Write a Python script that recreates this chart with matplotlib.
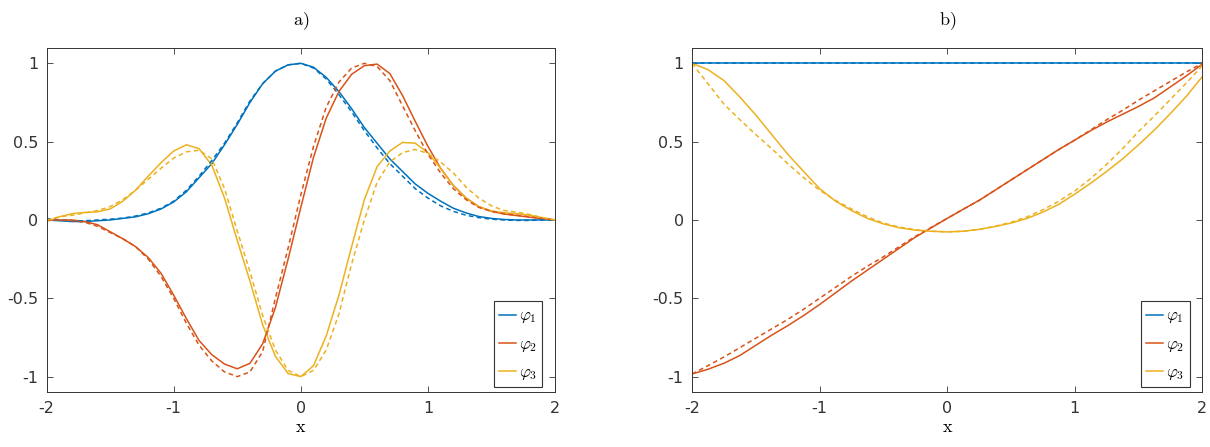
import numpy as np
import matplotlib
matplotlib.use("Agg")
import matplotlib.pyplot as plt

plt.rcParams['mathtext.fontset'] = 'cm'
plt.rcParams['axes.unicode_minus'] = False
plt.rcParams['font.family'] = 'DejaVu Sans'

# matlab default line colours
c_blue = '#0072BD'
c_red = '#D95319'
c_yel = '#EDB120'

# panel a), x step 0.1
xa = [-2.0, -1.9, -1.8, -1.7, -1.6, -1.5, -1.4, -1.3, -1.2, -1.1, -1.0,
      -0.9, -0.8, -0.7, -0.6, -0.5, -0.4, -0.3, -0.2, -0.1, 0.0,
      0.1, 0.2, 0.3, 0.4, 0.5, 0.6, 0.7, 0.8, 0.9, 1.0,
      1.1, 1.2, 1.3, 1.4, 1.5, 1.6, 1.7, 1.8, 1.9, 2.0]
a_phi1 = [0.0, -0.005, -0.01, -0.01, -0.005, 0.0, 0.01, 0.02, 0.04, 0.07, 0.115,
          0.18, 0.27, 0.36, 0.48, 0.61, 0.75, 0.87, 0.95, 0.99, 1.0,
          0.975, 0.91, 0.82, 0.71, 0.59, 0.49, 0.39, 0.31, 0.23, 0.17,
          0.12, 0.075, 0.045, 0.022, 0.01, 0.003, 0.0, 0.0, 0.0, 0.0]
a_phi1_d = [0.01, 0.0, -0.005, -0.005, 0.0, 0.005, 0.012, 0.025, 0.045, 0.075, 0.12,
            0.19, 0.28, 0.38, 0.49, 0.62, 0.76, 0.87, 0.95, 0.99, 1.0,
            0.97, 0.90, 0.80, 0.69, 0.57, 0.46, 0.36, 0.28, 0.20, 0.14,
            0.09, 0.055, 0.03, 0.015, 0.005, 0.0, -0.003, -0.003, 0.0, 0.0]
a_phi2 = [0.0, 0.0, 0.0, -0.01, -0.03, -0.075, -0.12, -0.17, -0.24, -0.34, -0.48,
          -0.63, -0.77, -0.86, -0.92, -0.95, -0.915, -0.79, -0.56, -0.25, 0.08,
          0.40, 0.65, 0.82, 0.93, 0.985, 0.995, 0.935, 0.795, 0.63, 0.47,
          0.33, 0.22, 0.14, 0.085, 0.055, 0.038, 0.028, 0.018, 0.008, 0.0]
a_phi2_d = [0.0, 0.0, -0.005, -0.015, -0.04, -0.08, -0.12, -0.17, -0.25, -0.36, -0.50,
            -0.66, -0.80, -0.90, -0.97, -1.0, -0.97, -0.84, -0.50, -0.18, 0.16,
            0.47, 0.72, 0.88, 0.97, 1.0, 0.98, 0.89, 0.73, 0.57, 0.42,
            0.30, 0.20, 0.13, 0.08, 0.055, 0.04, 0.03, 0.02, 0.01, 0.0]
a_phi3 = [-0.01, 0.02, 0.04, 0.048, 0.052, 0.07, 0.12, 0.19, 0.28, 0.365, 0.44,
          0.48, 0.455, 0.35, 0.14, -0.13, -0.39, -0.67, -0.87, -0.98, -1.0,
          -0.93, -0.74, -0.48, -0.17, 0.13, 0.34, 0.44, 0.495, 0.49, 0.43,
          0.33, 0.22, 0.14, 0.085, 0.058, 0.046, 0.04, 0.03, 0.015, 0.0]
a_phi3_d = [0.0, 0.02, 0.03, 0.045, 0.06, 0.085, 0.13, 0.19, 0.26, 0.33, 0.395,
            0.435, 0.445, 0.39, 0.20, -0.07, -0.33, -0.61, -0.83, -0.96, -1.0,
            -0.96, -0.83, -0.60, -0.28, 0.0, 0.24, 0.37, 0.43, 0.45, 0.425,
            0.37, 0.30, 0.21, 0.14, 0.09, 0.06, 0.05, 0.035, 0.015, 0.0]

# panel b), x step 0.125
xb = [-2.0, -1.875, -1.75, -1.625, -1.5, -1.375, -1.25, -1.125, -1.0,
      -0.875, -0.75, -0.625, -0.5, -0.375, -0.25, -0.125, 0.0,
      0.125, 0.25, 0.375, 0.5, 0.625, 0.75, 0.875, 1.0,
      1.125, 1.25, 1.375, 1.5, 1.625, 1.75, 1.875, 2.0]
b_phi1 = [1.0] * 33
b_phi1_d = [1.0] * 33
b_phi2 = [-0.983, -0.953, -0.915, -0.865, -0.80, -0.735, -0.675, -0.61, -0.54,
          -0.465, -0.39, -0.32, -0.25, -0.18, -0.11, -0.05, 0.01,
          0.068, 0.125, 0.19, 0.255, 0.32, 0.385, 0.45, 0.51,
          0.57, 0.625, 0.675, 0.725, 0.78, 0.85, 0.92, 0.995]
b_phi2_d = [-0.983, -0.93, -0.875, -0.815, -0.755, -0.695, -0.635, -0.57, -0.50,
            -0.43, -0.36, -0.295, -0.235, -0.17, -0.105, -0.047, 0.01,
            0.068, 0.125, 0.19, 0.255, 0.32, 0.385, 0.45, 0.51,
            0.575, 0.64, 0.70, 0.765, 0.825, 0.885, 0.945, 1.0]
b_phi3 = [1.0, 0.96, 0.89, 0.785, 0.67, 0.545, 0.42, 0.31, 0.20,
          0.12, 0.06, 0.01, -0.025, -0.05, -0.065, -0.072, -0.076,
          -0.072, -0.06, -0.042, -0.02, 0.01, 0.05, 0.10, 0.165,
          0.235, 0.31, 0.39, 0.48, 0.575, 0.68, 0.79, 0.915]
b_phi3_d = [1.0, 0.87, 0.74, 0.64, 0.545, 0.455, 0.36, 0.27, 0.19,
            0.125, 0.07, 0.02, -0.02, -0.045, -0.062, -0.072, -0.076,
            -0.072, -0.06, -0.04, -0.015, 0.02, 0.065, 0.12, 0.185,
            0.265, 0.355, 0.455, 0.565, 0.665, 0.77, 0.875, 0.985]

xticks = [-2, -1, 0, 1, 2]
yticks = [-1, -0.5, 0, 0.5, 1]
ylabels = ['-1', '-0.5', '0', '0.5', '1']
labels = [r'$\varphi_1$', r'$\varphi_2$', r'$\varphi_3$']

fig = plt.figure(figsize=(12.1, 4.47), dpi=100)
ax1 = fig.add_axes([0.0385, 0.1224, 0.4202, 0.771])
ax2 = fig.add_axes([0.5719, 0.1224, 0.4218, 0.771])

def draw(ax, x, solid, dashed, title):
    cols = [c_blue, c_red, c_yel]
    handles = []
    for ys, c in zip(solid, cols):
        h, = ax.plot(x, ys, color=c, lw=1.1, solid_joinstyle='round')
        handles.append(h)
    for ys, c in zip(dashed, cols):
        ax.plot(x, ys, color=c, lw=1.1, ls=(0, (3, 2.2)))
    ax.set_xlim(-2, 2)
    ax.set_ylim(-1.1, 1.1)
    ax.set_xticks(xticks)
    ax.set_yticks(yticks)
    ax.set_yticklabels(ylabels)
    ax.tick_params(direction='in', top=True, right=True, length=4, width=0.6,
                   labelsize=11.5, colors='0.2', pad=6)
    for s in ax.spines.values():
        s.set_color('0.2')
        s.set_linewidth(0.7)
    ax.set_title(r'$\mathrm{' + title + '}$', fontsize=13, pad=16)
    ax.set_xlabel(r'$\mathrm{x}$', fontsize=13, labelpad=2)
    leg = ax.legend(handles, labels, loc='lower right', bbox_to_anchor=(0.975, 0.016),
                    borderaxespad=0, fontsize=12, handlelength=1.0, handletextpad=0.2,
                    labelspacing=0.55, borderpad=0.3, fancybox=False, framealpha=1)
    leg.get_frame().set_edgecolor('0.2')
    leg.get_frame().set_linewidth(0.8)

draw(ax1, xa, [a_phi1, a_phi2, a_phi3], [a_phi1_d, a_phi2_d, a_phi3_d], 'a)')
draw(ax2, xb, [b_phi1, b_phi2, b_phi3], [b_phi1_d, b_phi2_d, b_phi3_d], 'b)')

fig.savefig('out.png', dpi=100)
